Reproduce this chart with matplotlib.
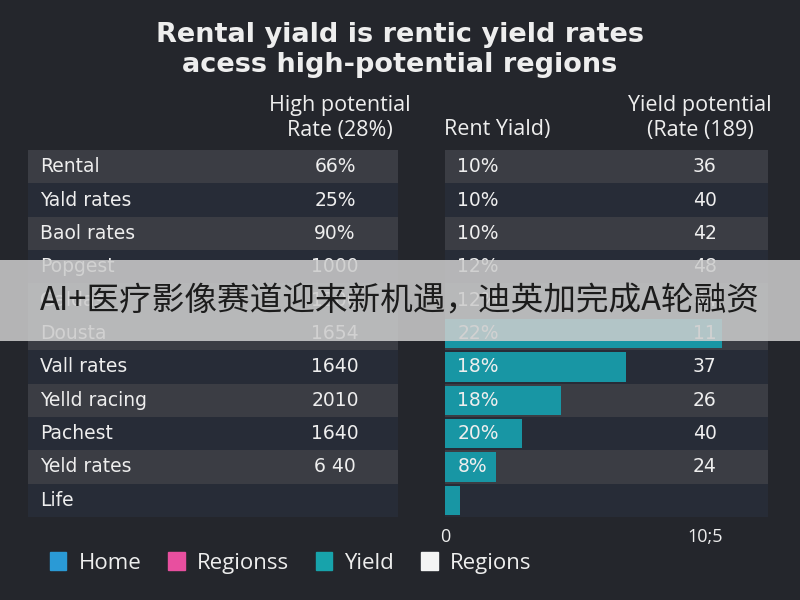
import matplotlib.pyplot as plt
from matplotlib.patches import Patch, Rectangle

# datos
regiones = ["Rental", "Yald rates", "Baol rates", "Popgest", "Galdas", "Dousta",
            "Vall rates", "Yelld racing", "Pachest", "Yeld rates", "Life"]
tasa_alta = ["66%", "25%", "90%", "1000", "1200", "1654",
             "1640", "2010", "1640", "6 40", ""]
rent_yield = ["10%", "10%", "10%", "12%", "12%", "22%",
              "18%", "18%", "20%", "8%", ""]
yield_pot = ["36", "40", "42", "48", "44", "11",
             "37", "26", "40", "24", ""]
barras = [0, 0, 0, 0, 0, 11.2, 7.3, 4.7, 3.1, 2.05, 0.6]

ticks_x = [0, 10.5]
ticks_txt = ["0", "10;5"]

leyenda = ["Home", "Regionss", "Yield", "Regions"]
colores_leyenda = ["#2a9ad6", "#e84f9f", "#17a3ab", "#f4f4f4"]

titulo = "Rental yiald is rentic yield rates\nacess high-potential regions"
banner = "AI+医疗影像赛道迎来新机遇，迪英加完成A轮融资"

FONDO = "#24262c"
CLARO = "#3b3d44"
OSCURO = "#272c37"
TEAL = "#1896a4"
BLANCO = "#eeeeee"

plt.rcParams['font.family'] = ['Open Sans', 'DejaVu Sans']
TABLA = ['DejaVu Sans']


def caja(x0, y0, x1, y1):
    # pixeles -> fraccion de figura
    return [x0 / 800, 1 - y1 / 600, (x1 - x0) / 800, (y1 - y0) / 600]


fig = plt.figure(figsize=(8, 6), dpi=100, facecolor=FONDO)

ax_t = fig.add_axes(caja(28, 150, 398, 517))
ax_b = fig.add_axes(caja(445, 150, 768, 517))

n = len(regiones)
filas = list(range(n))
claras = {0, 2, 4, 5, 7, 9}

for ax in (ax_t, ax_b):
    ax.set_facecolor(FONDO)
    ax.set_ylim(n - 0.5, -0.5)
    for s in ax.spines.values():
        s.set_visible(False)
    for i in filas:
        ax.axhspan(i - 0.5, i + 0.5, color=CLARO if i in claras else OSCURO, lw=0)

# tabla izquierda
ax_t.set_xlim(0, 1)
ax_t.set_xticks([])
ax_t.set_yticks([])
for i in filas:
    ax_t.text(0.032, i, regiones[i], color=BLANCO, fontsize=13.5,
              family=TABLA, va='center', ha='left')
    ax_t.text(0.83, i, tasa_alta[i], color=BLANCO, fontsize=13.5,
              family=TABLA, va='center', ha='center')

# barras derecha
ax_b.set_xlim(0, 13.05)
ax_b.barh(filas, barras, height=0.88, color=TEAL, zorder=2)
ax_b.set_yticks([])
ax_b.set_xticks(ticks_x, ticks_txt)
ax_b.tick_params(axis='x', length=0, colors=BLANCO, labelsize=13, pad=8)
for i in filas:
    ax_b.text(0.5, i, rent_yield[i], color=BLANCO, fontsize=13.5,
              family=TABLA, va='center', ha='left', zorder=3)
    ax_b.text(10.5, i, yield_pot[i], color=BLANCO, fontsize=13.5,
              family=TABLA, va='center', ha='center', zorder=3)

# titulo y cabeceras
fig.text(0.5, 1 - 50 / 600, titulo, ha='center', va='center', color=BLANCO,
         fontsize=19.5, fontweight='bold', family=['DejaVu Sans'],
         linespacing=1.15)
fig.text(340 / 800, 1 - 118 / 600, "High potential\nRate (28%)", ha='center',
         va='center', color=BLANCO, fontsize=15.5, linespacing=1.2)
fig.text(497 / 800, 1 - 130 / 600, "Rent Yiald)", ha='center',
         va='center', color=BLANCO, fontsize=15.5)
fig.text(700 / 800, 1 - 118 / 600, "Yield potential\n(Rate (189)", ha='center',
         va='center', color=BLANCO, fontsize=15.5, linespacing=1.2)

# leyenda
handles = [Patch(color=c, label=l) for c, l in zip(colores_leyenda, leyenda)]
fig.legend(handles=handles, loc='center left', bbox_to_anchor=(0.037, 1 - 563 / 600),
           ncol=4, frameon=False, labelcolor=BLANCO, fontsize=16,
           handlelength=0.75, handleheight=0.85, columnspacing=1.2, handletextpad=0.55)

# franja gris superpuesta
fig.add_artist(Rectangle((0, 1 - 341 / 600), 1, 81 / 600, transform=fig.transFigure,
                         color='#cdcdcd', alpha=0.86, lw=0, zorder=10))
fig.text(0.5, 1 - 301 / 600, banner, ha='center', va='center', color='#1c1c1c',
         fontsize=23.5, family=['Noto Sans CJK SC', 'DejaVu Sans'], zorder=11)

fig.savefig("out.png", dpi=100, facecolor=FONDO)
